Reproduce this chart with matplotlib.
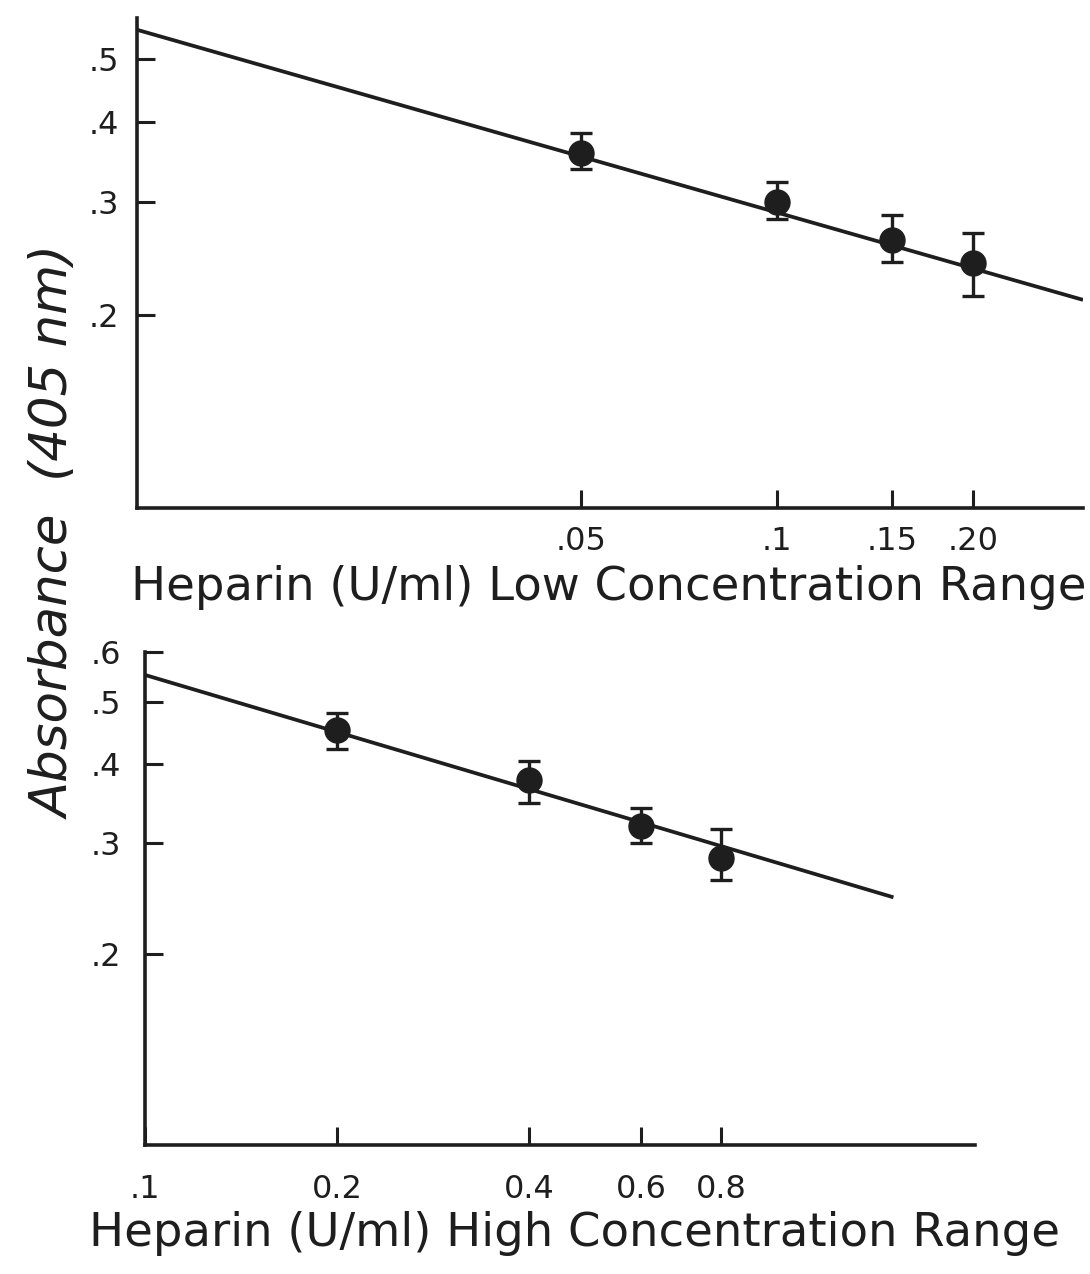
import matplotlib
matplotlib.use("Agg")
import matplotlib.pyplot as plt
from matplotlib.ticker import FixedLocator, NullLocator

# ---- data: low concentration range ----
low_x = [0.05, 0.10, 0.15, 0.20]
low_y = [0.357, 0.300, 0.262, 0.241]
low_err_lo = [0.020, 0.018, 0.020, 0.027]
low_err_hi = [0.027, 0.022, 0.024, 0.027]
low_fit_x = [0.0104, 0.295]
low_fit_y = [0.556, 0.211]
low_xticks = [0.05, 0.10, 0.15, 0.20]
low_xticklabels = [".05", ".1", ".15", ".20"]
low_yticks = [0.2, 0.3, 0.4, 0.5]
low_yticklabels = [".2", ".3", ".4", ".5"]

# ---- data: high concentration range ----
high_x = [0.2, 0.4, 0.6, 0.8]
high_y = [0.452, 0.377, 0.319, 0.284]
high_err_lo = [0.031, 0.030, 0.019, 0.022]
high_err_hi = [0.029, 0.027, 0.021, 0.031]
high_fit_x = [0.1, 1.49]
high_fit_y = [0.552, 0.246]
high_xticks = [0.1, 0.2, 0.4, 0.6, 0.8]
high_xticklabels = [".1", "0.2", "0.4", "0.6", "0.8"]
high_yticks = [0.2, 0.3, 0.4, 0.5, 0.6]
high_yticklabels = [".2", ".3", ".4", ".5", ".6"]

INK = "#1e1e1e"
W, H = 1090, 1274
fig = plt.figure(figsize=(W / 100, H / 100), dpi=100)
fig.patch.set_facecolor("white")


def style(ax, xlim, ylim, xt, xtl, yt, ytl, ypad, xpad):
    ax.set_xscale("log")
    ax.set_yscale("log")
    ax.set_xlim(*xlim)
    ax.set_ylim(*ylim)
    for s in ("top", "right"):
        ax.spines[s].set_visible(False)
    for s in ("left", "bottom"):
        ax.spines[s].set_linewidth(2.6)
        ax.spines[s].set_color(INK)
    ax.xaxis.set_major_locator(FixedLocator(xt))
    ax.xaxis.set_minor_locator(NullLocator())
    ax.set_xticklabels(xtl, fontsize=23, color=INK)
    ax.yaxis.set_major_locator(FixedLocator(yt))
    ax.yaxis.set_minor_locator(NullLocator())
    ax.set_yticklabels(ytl, fontsize=23, color=INK)
    ax.tick_params(axis="both", which="major", direction="in", length=13,
                   width=2.2, color=INK)
    ax.tick_params(axis="y", pad=ypad)
    ax.tick_params(axis="x", pad=xpad)
    ax.patch.set_alpha(0)


def draw(ax, x, y, lo, hi, fx, fy):
    ax.plot(fx, fy, color=INK, lw=2.7, solid_capstyle="butt")
    ax.errorbar(x, y, yerr=[lo, hi], fmt="o", color=INK, ms=18,
                ecolor=INK, elinewidth=2.4, capsize=8, capthick=2.4, zorder=3)


ax1 = fig.add_axes([137 / W, 1 - 508 / H, 946 / W, 490 / H])
style(ax1, (0.0104, 0.295), (0.1, 0.58), low_xticks, low_xticklabels,
      low_yticks, low_yticklabels, ypad=13, xpad=13)
draw(ax1, low_x, low_y, low_err_lo, low_err_hi, low_fit_x, low_fit_y)

ax2 = fig.add_axes([145 / W, 1 - 1145 / H, 830 / W, 493 / H])
style(ax2, (0.1, 2.0), (0.1, 0.6), high_xticks, high_xticklabels,
      high_yticks, high_yticklabels, ypad=17, xpad=21)
draw(ax2, high_x, high_y, high_err_lo, high_err_hi, high_fit_x, high_fit_y)

fig.text(609 / W, 1 - 588 / H, "Heparin (U/ml) Low Concentration Range",
         ha="center", va="center", fontsize=33.5, color=INK)
fig.text(575 / W, 1 - 1234 / H, "Heparin (U/ml) High Concentration Range",
         ha="center", va="center", fontsize=33.5, color=INK)
fig.text(56 / W, 1 - 532 / H, "Absorbance  (405 nm)", rotation=90,
         ha="center", va="center", fontsize=37, style="italic", color=INK)

fig.savefig("out.png", dpi=100, facecolor="white")
